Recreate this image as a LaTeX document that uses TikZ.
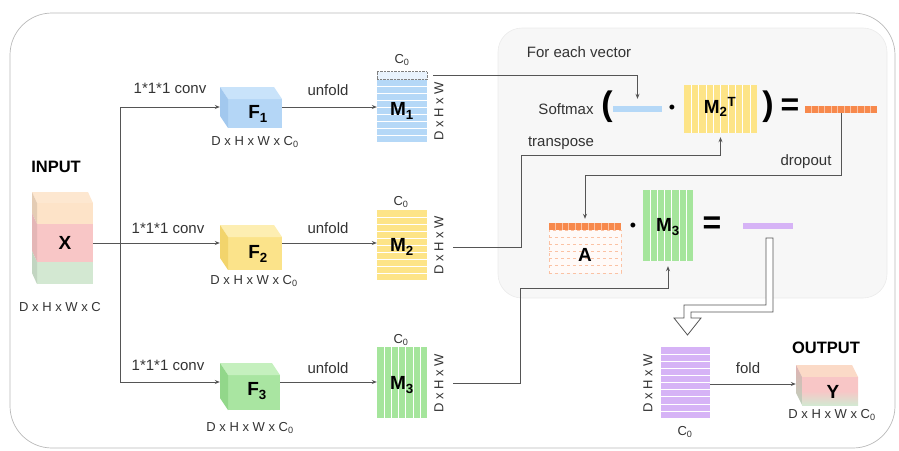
\documentclass[tikz,border=0pt]{standalone}
\usepackage{fontspec}
\setmainfont{Liberation Sans}
\usetikzlibrary{arrows.meta,calc}

\definecolor{ink}{HTML}{333333}
\definecolor{wire}{HTML}{555555}
\definecolor{panel}{HTML}{F7F7F7}
\definecolor{bluef}{HTML}{B4D6F6}
\definecolor{bluet}{HTML}{C9E3FA}
\definecolor{blues}{HTML}{A2C8EE}
\definecolor{yelf}{HTML}{FBE38A}
\definecolor{yelt}{HTML}{FDEEB2}
\definecolor{yels}{HTML}{F2D46C}
\definecolor{grnf}{HTML}{A9E5A1}
\definecolor{grnt}{HTML}{C5F0BE}
\definecolor{grns}{HTML}{92D78A}
\definecolor{mblue}{HTML}{B5D8F7}
\definecolor{myel}{HTML}{FDE487}
\definecolor{mgrn}{HTML}{A5E59C}
\definecolor{mpur}{HTML}{D6B3F6}
\definecolor{orng}{HTML}{F7894C}
\definecolor{orngl}{HTML}{FBC2A4}
\definecolor{peach}{HTML}{FDE3C8}
\definecolor{pinkx}{HTML}{F8C6C6}
\definecolor{greenx}{HTML}{D3E8D2}

% box drawn as a draw.io style cube: back corner (#1,#2), front corner (#3,#4),
% depth (#5,#6), colours front / top / side
\newcommand{\drawcube}[9]{%
  \fill[#7] ({#1+#5},{#2+#6}) rectangle (#3,#4);
  \fill[#8] (#1,#2) -- ({#3-#5},#2) -- (#3,{#2+#6}) -- ({#1+#5},{#2+#6}) -- cycle;
  \fill[#9] (#1,#2) -- ({#1+#5},{#2+#6}) -- ({#1+#5},#4) -- (#1,{#4-#6}) -- cycle;
}
% white row / column separators inside a matrix node
\newcommand{\hstripes}[2]{%
  \foreach \k in {1,...,#2}{%
    \pgfmathsetmacro{\fr}{\k/(#2+1)}
    \draw[white, line width=0.6pt] ($(#1.north west)!\fr!(#1.south west)$) -- ($(#1.north east)!\fr!(#1.south east)$);}}
\newcommand{\vstripes}[2]{%
  \foreach \k in {1,...,#2}{%
    \pgfmathsetmacro{\fr}{\k/(#2+1)}
    \draw[white, line width=0.6pt] ($(#1.north west)!\fr!(#1.north east)$) -- ($(#1.south west)!\fr!(#1.south east)$);}}
\newcommand{\segments}[2]{%
  \foreach \k in {1,...,#2}{%
    \pgfmathsetmacro{\fr}{\k/(#2+1)}
    \draw[orngl, line width=0.9pt] ($(#1.north west)!\fr!(#1.north east)$) -- ($(#1.south west)!\fr!(#1.south east)$);}}

\begin{document}
\begin{tikzpicture}[x=1pt, y=-1pt,
  txt/.style={inner sep=0pt, text=ink, font=\fontsize{15}{18}\selectfont},
  dim/.style={inner sep=0pt, text=ink, font=\fontsize{13}{15}\selectfont},
  head/.style={inner sep=0pt, text=black, font=\bfseries\fontsize{16.5}{19}\selectfont},
  mlabel/.style={inner sep=0pt, text=black, font=\bfseries\fontsize{19}{22}\selectfont},
  matbox/.style={inner sep=0pt, draw=none},
  spot/.style={inner sep=0pt, minimum size=0pt},
  wireline/.style={draw=wire, line width=0.8pt},
  conn/.style={draw=wire, line width=0.8pt, -{Stealth[length=5pt, width=4pt]}},
  paren/.style={inner sep=0pt, text=black, font=\bfseries\fontsize{34}{34}\selectfont},
  eqsign/.style={inner sep=0pt, text=black, font=\bfseries\fontsize{32}{32}\selectfont},
]
\useasboundingbox (0,0) rectangle (899,450);

% outer frame and attention panel
\draw[gray!55, line width=0.7pt, rounded corners=42pt] (10,13) rectangle (895,448);
\draw[black!8, fill=panel, line width=0.6pt, rounded corners=24pt] (498,28) rectangle (887,298);

% ---------- input cube X ----------
\node[head] (in) at (56,167) {INPUT};
\fill[peach!85!white] (32,192) -- (88,192) -- (93,203) -- (37,203) -- cycle;
\fill[peach] (37,203) rectangle (93,224);
\fill[pinkx] (37,224) rectangle (93,262);
\fill[greenx] (37,262) rectangle (93,284);
\fill[peach!90!black] (32,192) -- (37,203) -- (37,224) -- (32,213) -- cycle;
\fill[pinkx!92!black] (32,213) -- (37,224) -- (37,262) -- (32,251) -- cycle;
\fill[greenx!92!black] (32,251) -- (37,262) -- (37,284) -- (32,273) -- cycle;
\node[spot, minimum width=56pt, minimum height=81pt] (X) at (65,243.5) {};
\node[mlabel] (Xt) at (65,243) {X};
\node[dim] (Xd) at (60,307) {D x H x W x C};

% ---------- 1x1x1 convolution cubes ----------
\drawcube{220}{87}{282}{128}{8}{12}{bluef}{bluet}{blues}
\node[spot, minimum width=62pt, minimum height=41pt] (F1) at (251,107.5) {};
\node[mlabel] (F1t) at (258,114) {F\textsubscript{1}};
\node[dim] (F1d) at (255,142) {D x H x W x C\textsubscript{0}};

\drawcube{220}{225}{282}{270}{8}{12}{yelf}{yelt}{yels}
\node[spot, minimum width=62pt, minimum height=45pt] (F2) at (251,247.5) {};
\node[mlabel] (F2t) at (258,254) {F\textsubscript{2}};
\node[dim] (F2d) at (254,281) {D x H x W x C\textsubscript{0}};

\drawcube{220}{363}{280}{410}{8}{12}{grnf}{grnt}{grns}
\node[spot, minimum width=60pt, minimum height=47pt] (F3) at (250,386.5) {};
\node[mlabel] (F3t) at (257,391) {F\textsubscript{3}};
\node[dim] (F3d) at (250,428) {D x H x W x C\textsubscript{0}};

% ---------- unfolded matrices ----------
\node[matbox, fill=mblue, minimum width=50pt, minimum height=62pt] (M1) at (402,111) {};
\hstripes{M1}{8}
\node[matbox, draw=gray, densely dotted, fill=mblue!30, minimum width=50pt, minimum height=8pt, anchor=south] (M1top) at (M1.north) {};
\node[mlabel] (M1t) at (402,111) {M\textsubscript{1}};
\node[dim] (M1c) at (402,60) {C\textsubscript{0}};
\node[dim, rotate=90] (M1d) at (439,111) {D x H x W};

\node[matbox, fill=myel, minimum width=50pt, minimum height=70pt] (M2) at (402,245) {};
\hstripes{M2}{9}
\node[mlabel] (M2t) at (402,247) {M\textsubscript{2}};
\node[dim] (M2c) at (401,202) {C\textsubscript{0}};
\node[dim, rotate=90] (M2d) at (439,245) {D x H x W};

\node[matbox, fill=mgrn, minimum width=50pt, minimum height=71pt] (M3) at (402,382.5) {};
\vstripes{M3}{6}
\node[mlabel] (M3t) at (402,385) {M\textsubscript{3}};
\node[dim] (M3c) at (401,340) {C\textsubscript{0}};
\node[dim, rotate=90] (M3d) at (439,383) {D x H x W};

% ---------- branches ----------
\coordinate (t1) at (120,107);
\coordinate (t2) at (120,243);
\coordinate (t3) at (120,382);
\draw[wireline] (X.east |- t2) -- (t2);
\draw[wireline] (t1) -- (t3);
\draw[conn] (t1) -- (F1.west |- t1);
\draw[conn] (t2) -- (F2.west |- t2);
\draw[conn] (t3) -- (F3.west |- t3);
\node[txt] (c1) at (170,88) {1*1*1 conv};
\node[txt] (c2) at (168,228) {1*1*1 conv};
\node[txt] (c3) at (168,365) {1*1*1 conv};

\draw[conn] (F1.east |- t1) -- (M1.west |- t1);
\draw[conn] (F2.east |- t2) -- (M2.west |- t2);
\draw[conn] (F3.east |- t3) -- (M3.west |- t3);
\node[txt] (u1) at (328,90) {unfold};
\node[txt] (u2) at (328,228) {unfold};
\node[txt] (u3) at (328,368) {unfold};

% ---------- attention for each vector ----------
\node[txt] (each) at (579,52) {For each vector};
\node[txt] (soft) at (566,109) {Softmax};
\node[paren] (lp) at (607,107) {(};
\node[matbox, fill=mblue, minimum width=49pt, minimum height=6pt] (bbar) at (637.5,109) {};
\node[inner sep=0pt, font=\fontsize{18}{18}\selectfont] (dot1) at (672,109) {\textbullet};
\node[matbox, fill=myel, minimum width=73pt, minimum height=48pt] (M2T) at (720.5,109) {};
\vstripes{M2T}{9}
\node[mlabel] (M2Tt) at (720,107) {M\textsubscript{2}\textsuperscript{T}};
\node[paren] (rp) at (768,107) {)};
\node[eqsign] (eq1) at (790,107) {=};
\node[matbox, fill=orng, minimum width=72pt, minimum height=7pt] (obar) at (841,109.5) {};
\segments{obar}{10}

\node[matbox, fill=orng!4, draw=orngl, dashed, minimum width=72pt, minimum height=43pt] (A) at (585,251.5) {};
\foreach \yy in {237,244,251,258,265}{\draw[orngl, dashed, line width=0.6pt] (549,\yy) -- (621,\yy);}
\node[matbox, fill=orng, minimum width=72pt, minimum height=7pt] (Atop) at (585,226.5) {};
\segments{Atop}{10}
\node[mlabel] (At) at (585,255) {A};
\node[inner sep=0pt, font=\fontsize{18}{18}\selectfont] (dot2) at (633,227) {\textbullet};
\node[matbox, fill=mgrn, minimum width=50pt, minimum height=71pt] (M3r) at (668,225.5) {};
\vstripes{M3r}{6}
\node[mlabel] (M3rt) at (668,227) {M\textsubscript{3}};
\node[eqsign] (eq2) at (712,225) {=};
\node[matbox, fill=mpur, minimum width=50pt, minimum height=6pt] (pbar) at (768,226) {};

% ---------- connectors into the panel ----------
\coordinate (m1o) at (433,75);
\draw[conn, shorten >=7pt] (m1o) -| (bbar.north);
\coordinate (m2o) at (453,247);
\coordinate (k2) at (521,155);
\draw[conn, shorten >=4pt] (m2o) -| (k2) -| (M2T.south);
\node[txt] (tr) at (561,143) {transpose};
\coordinate (m3o) at (453,383);
\coordinate (k3) at (520,288);
\draw[conn, shorten >=5pt] (m3o) -| (k3) -| (M3r.south);
\coordinate (k4) at (841,175);
\draw[conn, shorten >=4pt] (obar.south) -- (k4) -| (Atop.north);
\node[txt] (drop) at (806,162) {dropout};

% ---------- fold to the output ----------
\draw[wire, line width=0.8pt, fill=white, line join=miter]
  (766,238) -- (773,238) -- (773,312) -- (691,312) -- (691,318) -- (701,318)
  -- (687.5,335) -- (674,318) -- (684,318) -- (684,305) -- (766,305) -- cycle;

\node[matbox, fill=mpur, minimum width=49pt, minimum height=71pt] (P) at (685.5,382.5) {};
\hstripes{P}{9}
\node[dim, rotate=90] (Pd) at (648,383) {D x H x W};
\node[dim] (Pc) at (685,432) {C\textsubscript{0}};

\fill[peach!70!pinkx] (796,365) -- (852,365) -- (858,377) -- (802,377) -- cycle;
\shade[top color=pinkx, bottom color=greenx, middle color=pinkx] (802,377) rectangle (858,405);
\shade[top color=pinkx!90!black, bottom color=greenx!90!black] (796,365) -- (802,377) -- (802,405) -- (796,393) -- cycle;
\node[spot, minimum width=62pt, minimum height=40pt] (Y) at (827,385) {};
\node[mlabel] (Yt) at (833,392) {Y};
\node[head] (out) at (826,348) {OUTPUT};
\node[dim] (Yd) at (832,415) {D x H x W x C\textsubscript{0}};

\draw[conn] (P.east |- 0,384) -- (Y.west |- 0,384);
\node[txt] (fold) at (748,368) {fold};

\end{tikzpicture}
\end{document}
